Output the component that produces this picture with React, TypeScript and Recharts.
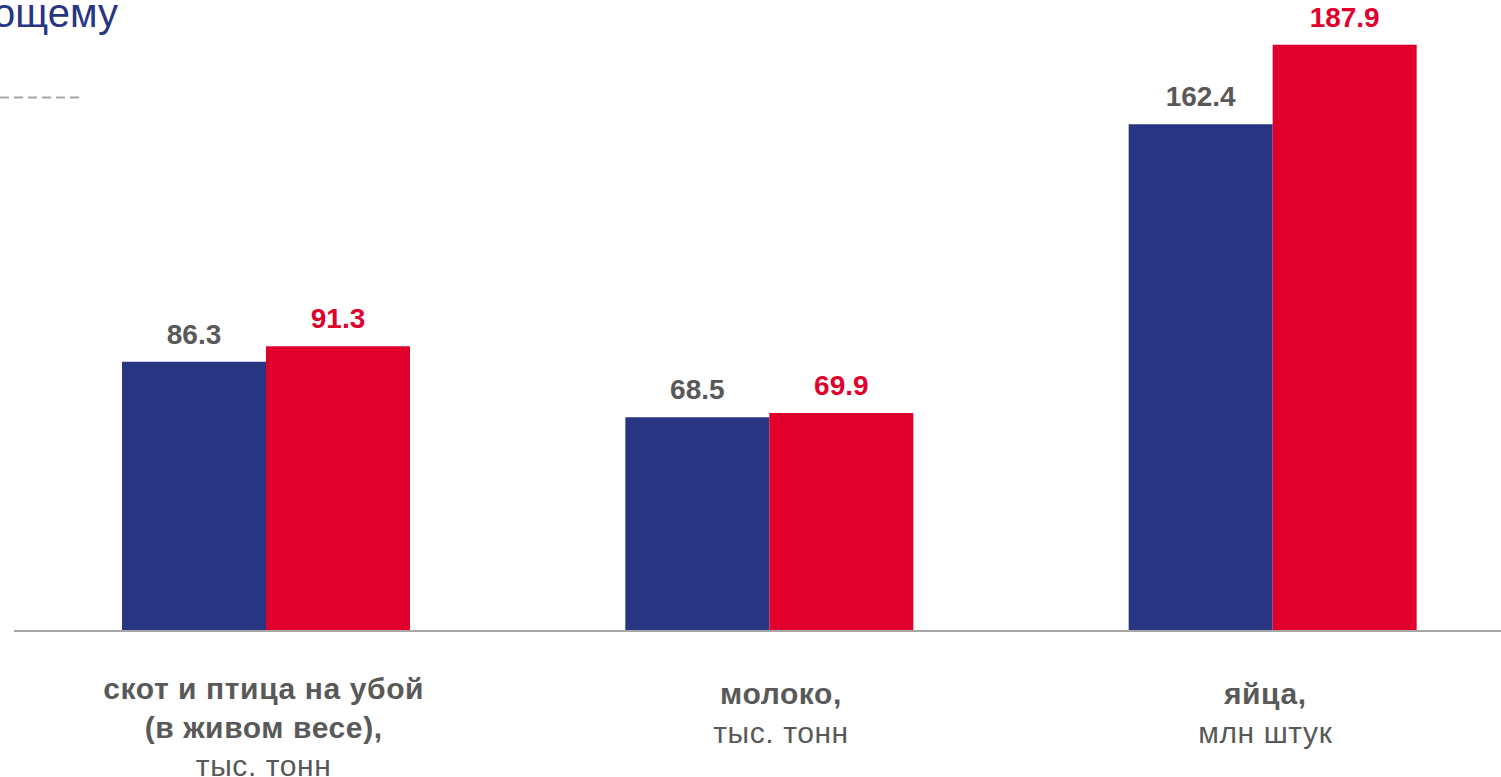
import React from 'react';
import { BarChart, Bar, XAxis, YAxis, LabelList } from 'recharts';

// categories: each line of the axis label, bold or not
const categories = ['скот и птица', 'молоко', 'яйца'];
const categoryLines: { text: string; bold: boolean }[][] = [
  [
    { text: 'скот и птица на убой', bold: true },
    { text: '(в живом весе),', bold: true },
    { text: 'тыс. тонн', bold: false },
  ],
  [
    { text: 'молоко,', bold: true },
    { text: 'тыс. тонн', bold: false },
  ],
  [
    { text: 'яйца,', bold: true },
    { text: 'млн штук', bold: false },
  ],
];
const prevValues = [86.3, 68.5, 162.4];
const currValues = [91.3, 69.9, 187.9];

const BLUE = '#283583';
const RED = '#e1002c';
const GRAY = '#595959';
const FONT = '"Liberation Sans", Arial, sans-serif';

// the source text boxes are not quite centred under the bars
const TICK_SHIFT = [-2, 12, -7];

const data = categories.map((name, i) => ({
  name,
  prev: prevValues[i],
  curr: currValues[i],
}));

const CategoryTick = (props: any) => {
  const { x, y, payload } = props;
  const lines = categoryLines[payload.index] || [];
  const first = lines.length > 2 ? 68 : 73;
  const dx = TICK_SHIFT[payload.index] || 0;
  return (
    <g>
      {lines.map((l, i) => (
        <text
          key={i}
          x={x + dx}
          y={y + first + i * 38.5}
          textAnchor="middle"
          fill={GRAY}
          fontFamily={FONT}
          fontSize={30}
          letterSpacing={0.6}
          fontWeight={l.bold ? 700 : 400}
        >
          {l.text}
        </text>
      ))}
    </g>
  );
};

export default function App() {
  return (
    <div
      style={{
        position: 'fixed',
        left: 0,
        top: 0,
        width: 1501,
        height: 777,
        overflow: 'hidden',
        background: '#fff',
      }}
    >
      <BarChart
        width={1524}
        height={777}
        data={data}
        margin={{ top: 7, right: 0, bottom: 0, left: 14 }}
        barGap={0}
        barSize={144}
      >
        <YAxis hide domain={[0, 200]} />
        <XAxis
          dataKey="name"
          height={146}
          tickSize={0}
          tickMargin={0}
          tickLine={false}
          axisLine={{ stroke: '#a6a6a6', strokeWidth: 2 }}
          tick={<CategoryTick />}
          interval={0}
        />
        <Bar dataKey="prev" fill={BLUE} isAnimationActive={false}>
          <LabelList
            dataKey="prev"
            position="top"
            offset={18}
            fill={GRAY}
            fontFamily={FONT}
            fontSize={28}
            fontWeight={700}
          />
        </Bar>
        <Bar dataKey="curr" fill={RED} isAnimationActive={false}>
          <LabelList
            dataKey="curr"
            position="top"
            offset={18}
            fill={RED}
            fontFamily={FONT}
            fontSize={28}
            fontWeight={700}
          />
        </Bar>
      </BarChart>
      <svg
        width={200}
        height={110}
        style={{ position: 'absolute', left: 0, top: 0 }}
      >
        <text x={-7} y={27} fill={BLUE} fontFamily={FONT} fontSize={40}>
          ощему
        </text>
        <line
          x1={0}
          y1={97.5}
          x2={81}
          y2={97.5}
          stroke="#a6a6a6"
          strokeWidth={2}
          strokeDasharray="9 5"
        />
      </svg>
    </div>
  );
}
